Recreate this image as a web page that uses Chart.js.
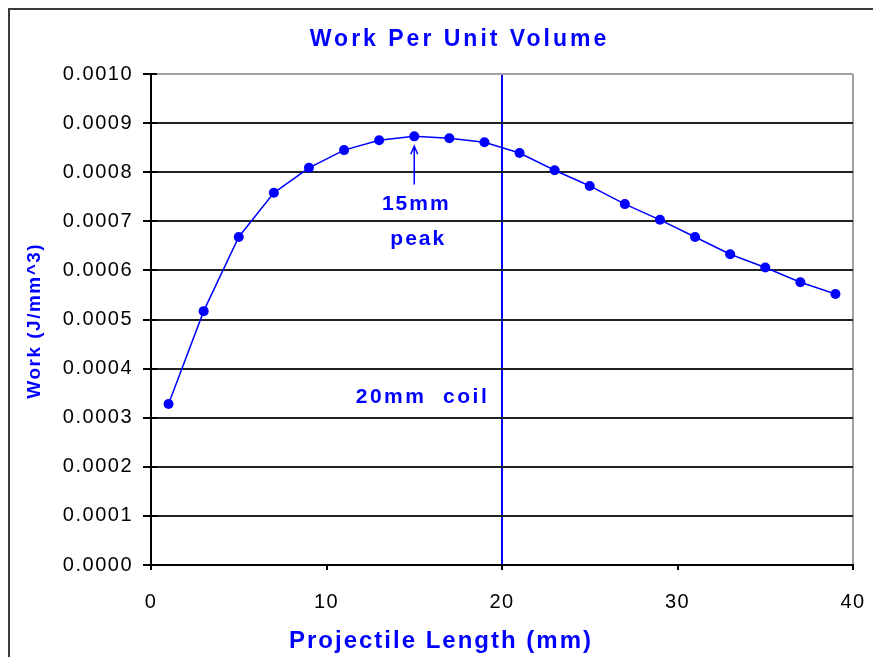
<!DOCTYPE html>
<html>
<head>
<meta charset="utf-8">
<script src="https://cdn.jsdelivr.net/npm/chart.js@4.4.1/dist/chart.umd.min.js"></script>
<style>
  html, body { margin: 0; padding: 0; background: #ffffff; overflow: hidden; }
  #wrap { position: relative; width: 873px; height: 657px; }
  canvas { display: block; }
</style>
</head>
<body>
<div id="wrap"><canvas id="chart" width="873" height="657"></canvas></div>
<script>
// ---- data ----
const chartTitle = 'Work Per Unit Volume';
const xAxisTitle = 'Projectile Length (mm)';
const yAxisTitle = 'Work (J/mm^3)';
const projectileLength = [1, 3, 5, 7, 9, 11, 13, 15, 17, 19, 21, 23, 25, 27, 29, 31, 33, 35, 37, 39];
const workPerVolume = [0.000328, 0.000517, 0.000668, 0.000758, 0.000809, 0.000845, 0.000865, 0.000873,
                       0.000869, 0.000861, 0.000839, 0.000804, 0.000772, 0.000735, 0.000703, 0.000668,
                       0.000633, 0.000606, 0.000576, 0.000552];
const xTickValues = [0, 10, 20, 30, 40];
const yTickLabels = ['0.0000', '0.0001', '0.0002', '0.0003', '0.0004', '0.0005',
                     '0.0006', '0.0007', '0.0008', '0.0009', '0.0010'];
const coilLength = 20;
const peakLength = 15;
const peakLabelLines = ['15mm', 'peak'];
const coilLabel = '20mm  coil';

// ---- styling ----
const BLUE = '#0000ff';
const FONT = "'Liberation Sans', Arial, Helvetica, sans-serif";

function spacedText(ctx, text, x, y, font, spacing, align, baseline) {
  ctx.save();
  ctx.font = font;
  try { ctx.letterSpacing = spacing + 'px'; } catch (e) {}
  ctx.fillStyle = BLUE;
  ctx.textBaseline = baseline || 'alphabetic';
  ctx.textAlign = 'left';
  const w = ctx.measureText(text).width;
  const sx = align === 'center' ? x - (w - spacing) / 2 : x;
  ctx.fillText(text, sx, y);
  ctx.restore();
}

const tickSpacingPlugin = {
  id: 'tickSpacing',
  beforeUpdate(chart) { try { chart.ctx.letterSpacing = '1.5px'; } catch (e) {} },
  beforeDraw(chart) {
    const ctx = chart.ctx;
    try { ctx.letterSpacing = '1.5px'; } catch (e) {}
    // outer frame (left and top edges visible)
    ctx.save();
    ctx.fillStyle = '#3a3a3a';
    ctx.fillRect(8, 8, 2, chart.height - 8);
    ctx.fillRect(8, 8, chart.width - 8, 2);
    ctx.restore();
  },
  afterDatasetsDraw(chart) {
    // y tick marks crossing into the plot, as in the reference
    const ctx = chart.ctx;
    const ys = chart.scales.y;
    const left = chart.chartArea.left;
    ctx.save();
    ctx.strokeStyle = '#000';
    ctx.lineWidth = 2;
    ys.ticks.forEach(t => {
      const y = Math.round(ys.getPixelForValue(t.value));
      ctx.beginPath();
      ctx.moveTo(left, y);
      ctx.lineTo(left + 6, y);
      ctx.stroke();
    });
    ctx.restore();
  }
};

const textPlugin = {
  id: 'texts',
  afterDraw(chart) {
    const ctx = chart.ctx;
    const xs = chart.scales.x, ys = chart.scales.y;
    // chart title
    spacedText(ctx, chartTitle, 458, 46, 'bold 23px ' + FONT, 3, 'center');
    // x axis title
    spacedText(ctx, xAxisTitle, 440, 648, 'bold 24px ' + FONT, 2, 'center');
    // y axis title (rotated)
    ctx.save();
    ctx.translate(35, (chart.chartArea.top + chart.chartArea.bottom) / 2 + 2);
    ctx.rotate(-Math.PI / 2);
    spacedText(ctx, yAxisTitle, 0, 0, 'bold 19px ' + FONT, 1.5, 'center', 'middle');
    ctx.restore();

    // peak annotation
    const px = xs.getPixelForValue(peakLength);
    const tipY = ys.getPixelForValue(0.000853);
    const tailY = ys.getPixelForValue(0.000775);
    ctx.save();
    ctx.strokeStyle = BLUE;
    ctx.lineWidth = 1.5;
    ctx.beginPath();
    ctx.moveTo(px, tailY);
    ctx.lineTo(px, tipY);
    ctx.moveTo(px - 3.5, tipY + 8);
    ctx.lineTo(px, tipY);
    ctx.lineTo(px + 3.5, tipY + 8);
    ctx.stroke();
    ctx.restore();
    spacedText(ctx, peakLabelLines[0], px + 1, ys.getPixelForValue(0.000723), 'bold 21px ' + FONT, 2, 'center');
    spacedText(ctx, peakLabelLines[1], px + 3, ys.getPixelForValue(0.000652), 'bold 21px ' + FONT, 2, 'center');
    // coil annotation
    spacedText(ctx, coilLabel, xs.getPixelForValue(15.4), ys.getPixelForValue(0.00033), 'bold 21px ' + FONT, 2.5, 'center');
  }
};

const points = projectileLength.map((x, i) => ({ x: x, y: workPerVolume[i] }));

new Chart(document.getElementById('chart'), {
  type: 'line',
  data: {
    datasets: [{
      label: 'Work',
      data: points,
      borderColor: BLUE,
      backgroundColor: BLUE,
      borderWidth: 1.5,
      tension: 0,
      pointStyle: 'circle',
      pointRadius: 5,
      pointBorderWidth: 0,
      pointBackgroundColor: BLUE,
      fill: false
    }]
  },
  options: {
    responsive: false,
    animation: false,
    devicePixelRatio: 1,
    layout: { padding: { left: 0, top: 74, right: 20, bottom: 0 } },
    plugins: {
      legend: { display: false },
      title: { display: false },
      tooltip: { enabled: false }
    },
    scales: {
      x: {
        type: 'linear',
        min: 0,
        max: 40,
        afterFit(s) { s.height = 92; s.paddingRight = 0; s.paddingLeft = 0; },
        afterBuildTicks(s) { s.ticks = xTickValues.map(v => ({ value: v })); },
        ticks: {
          color: '#000',
          font: { family: FONT, size: 20 },
          padding: 20,
          maxRotation: 0,
          autoSkip: false,
          callback: (v) => String(v)
        },
        grid: {
          color: (c) => (c.tick && c.tick.value === coilLength) ? BLUE :
                        (c.tick && c.tick.value === 40) ? '#a0a0a0' : 'rgba(0,0,0,0)',
          lineWidth: 2,
          tickColor: '#000',
          tickLength: 5
        },
        border: { color: '#000', width: 2 }
      },
      y: {
        type: 'linear',
        min: 0,
        max: 0.001,
        afterFit(s) { s.width = 151; s.paddingTop = 0; s.paddingBottom = 0; },
        ticks: {
          stepSize: 0.0001,
          color: '#000',
          font: { family: FONT, size: 20 },
          padding: 10,
          callback: (v) => yTickLabels[Math.round(v / 0.0001)]
        },
        grid: {
          color: (c) => (c.tick && Math.abs(c.tick.value - 0.001) < 1e-9) ? '#a0a0a0' : '#222222',
          lineWidth: 2,
          tickColor: '#000',
          tickLength: 8
        },
        border: { color: '#000', width: 2 }
      }
    }
  },
  plugins: [tickSpacingPlugin, textPlugin]
});
</script>
</body>
</html>
